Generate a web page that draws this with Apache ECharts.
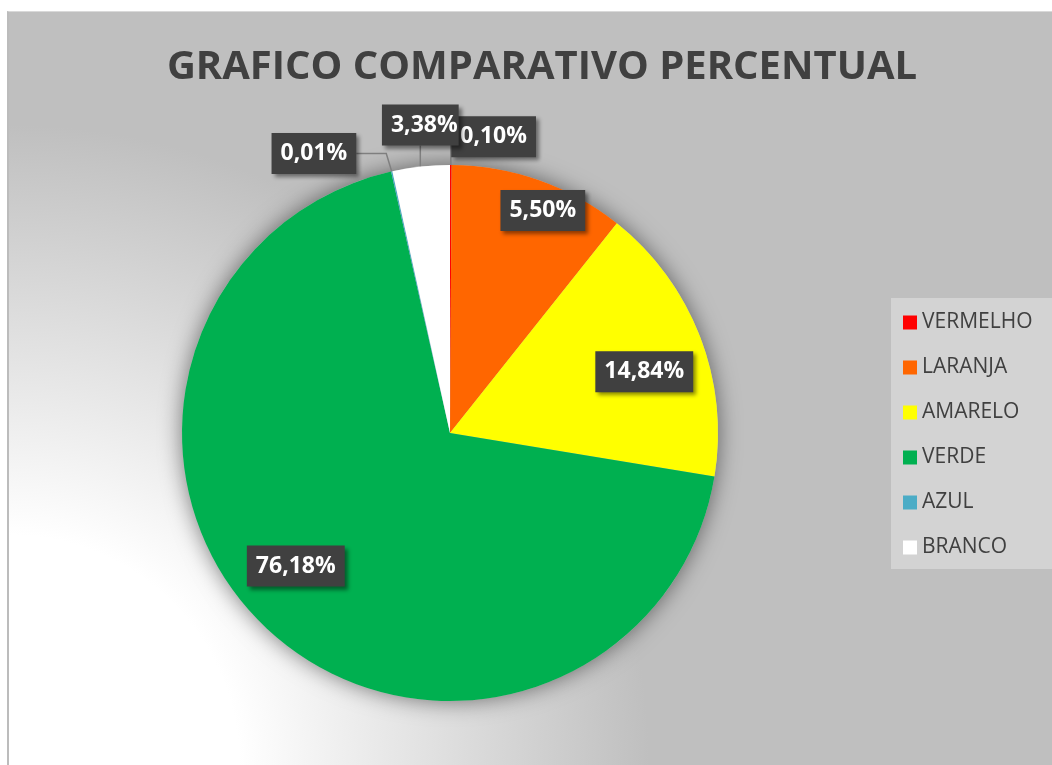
<!DOCTYPE html>
<html>
<head>
<meta charset="utf-8">
<title>Grafico comparativo percentual</title>
<script src="https://cdn.jsdelivr.net/npm/echarts@6/dist/echarts.min.js"></script>
<style>
  html, body { margin: 0; padding: 0; background: #fff; }
  #frame {
    position: absolute; left: 7px; top: 11px; right: 0; bottom: 0;
    border-left: 2px solid #bcbcbc; border-top: 1px solid #d9d9d9;
    background: radial-gradient(circle at 0% 100%, #ffffff 0px, #ffffff 230px, #bfbfbf 640px);
  }
  #chart { position: absolute; left: 0; top: 0; width: 1052px; height: 765px; }
</style>
</head>
<body>
<div id="frame"></div>
<div id="chart"></div>
<script>
const categories = ['VERMELHO', 'LARANJA', 'AMARELO', 'VERDE', 'AZUL', 'BRANCO']
// slice sizes as drawn (%)
const sliceValues = [0.1, 10.6, 16.9, 68.9, 0.08, 3.45]
// texts shown in the data labels
const labelTexts = ['0,10%', '5,50%', '14,84%', '76,18%', '0,01%', '3,38%']
const colors = ['#ff0000', '#ff6600', '#ffff00', '#00b050', '#4bacc6', '#ffffff']
// label placement: [radius factor, angle shift in degrees]
const labelPlace = [[1.117, 8.2], [0.90, 3.2], [0.76, 3.6], [0.76, 5.9], [1.16, -13.4], [1.1545, 0.7]]
const outsideLabel = [true, false, false, false, true, true]

const center = [450, 433]
const radius = 268

const total = sliceValues.reduce((a, b) => a + b, 0)
let acc = 0
const midAngles = sliceValues.map(v => {
  const m = (acc + v / 2) / total * 360
  acc += v
  return m
})

const chart = echarts.init(document.getElementById('chart'))

chart.setOption({
  backgroundColor: 'transparent',
  animation: false,
  title: {
    text: 'GRAFICO COMPARATIVO PERCENTUAL',
    left: 537,
    textAlign: 'center',
    top: 43,
    textStyle: {
      fontFamily: "'Open Sans', sans-serif",
      fontWeight: 'bold',
      fontSize: 40,
      color: '#404040'
    }
  },
  legend: {
    orient: 'vertical',
    left: 891,
    top: 298,
    data: categories,
    icon: 'rect',
    itemWidth: 14,
    itemHeight: 14,
    itemGap: 24,
    padding: [14, 22, 11, 12],
    backgroundColor: '#d3d3d3',
    textStyle: {
      fontFamily: "'Open Sans', sans-serif",
      fontSize: 21,
      lineHeight: 20,
      color: '#404040'
    }
  },
  series: [
    {
      // backing disc that carries the pie shadow
      type: 'pie',
      silent: true,
      center: center,
      radius: radius,
      z: 1,
      label: { show: false },
      labelLine: { show: false },
      itemStyle: {
        color: '#bfbfbf',
        shadowBlur: 22,
        shadowColor: 'rgba(0,0,0,0.5)'
      },
      data: [{ value: total, name: 'total' }]
    },
    {
      type: 'pie',
      center: center,
      radius: radius,
      startAngle: 90,
      clockwise: true,
      z: 2,
      avoidLabelOverlap: false,
      itemStyle: { borderWidth: 0 },
      label: {
        color: '#ffffff',
        fontFamily: "'Open Sans', sans-serif",
        fontWeight: 'bold',
        fontSize: 23,
        lineHeight: 25,
        backgroundColor: '#404040',
        padding: [8, 9],
        shadowBlur: 4,
        shadowOffsetX: 3,
        shadowOffsetY: 3,
        shadowColor: 'rgba(0,0,0,0.45)',
        formatter: p => labelTexts[p.dataIndex]
      },
      labelLine: {
        lineStyle: { color: '#7f7f7f', width: 1.5 }
      },
      labelLayout: function (p) {
        const i = p.dataIndex
        const a = (midAngles[i] + labelPlace[i][1]) * Math.PI / 180
        const r = radius * labelPlace[i][0]
        return {
          x: center[0] + r * Math.sin(a),
          y: center[1] - r * Math.cos(a),
          align: 'center',
          verticalAlign: 'middle'
        }
      },
      data: categories.map((name, i) => ({
        name: name,
        value: sliceValues[i],
        itemStyle: { color: colors[i] },
        // the last label sits over its neighbour, so keep its right edge tight
        label: i === 5
          ? { position: 'outside', padding: [8, 1, 8, 9] }
          : { position: outsideLabel[i] ? 'outside' : 'inside' },
        labelLine: { show: outsideLabel[i] }
      }))
    }
  ]
})
</script>
</body>
</html>
